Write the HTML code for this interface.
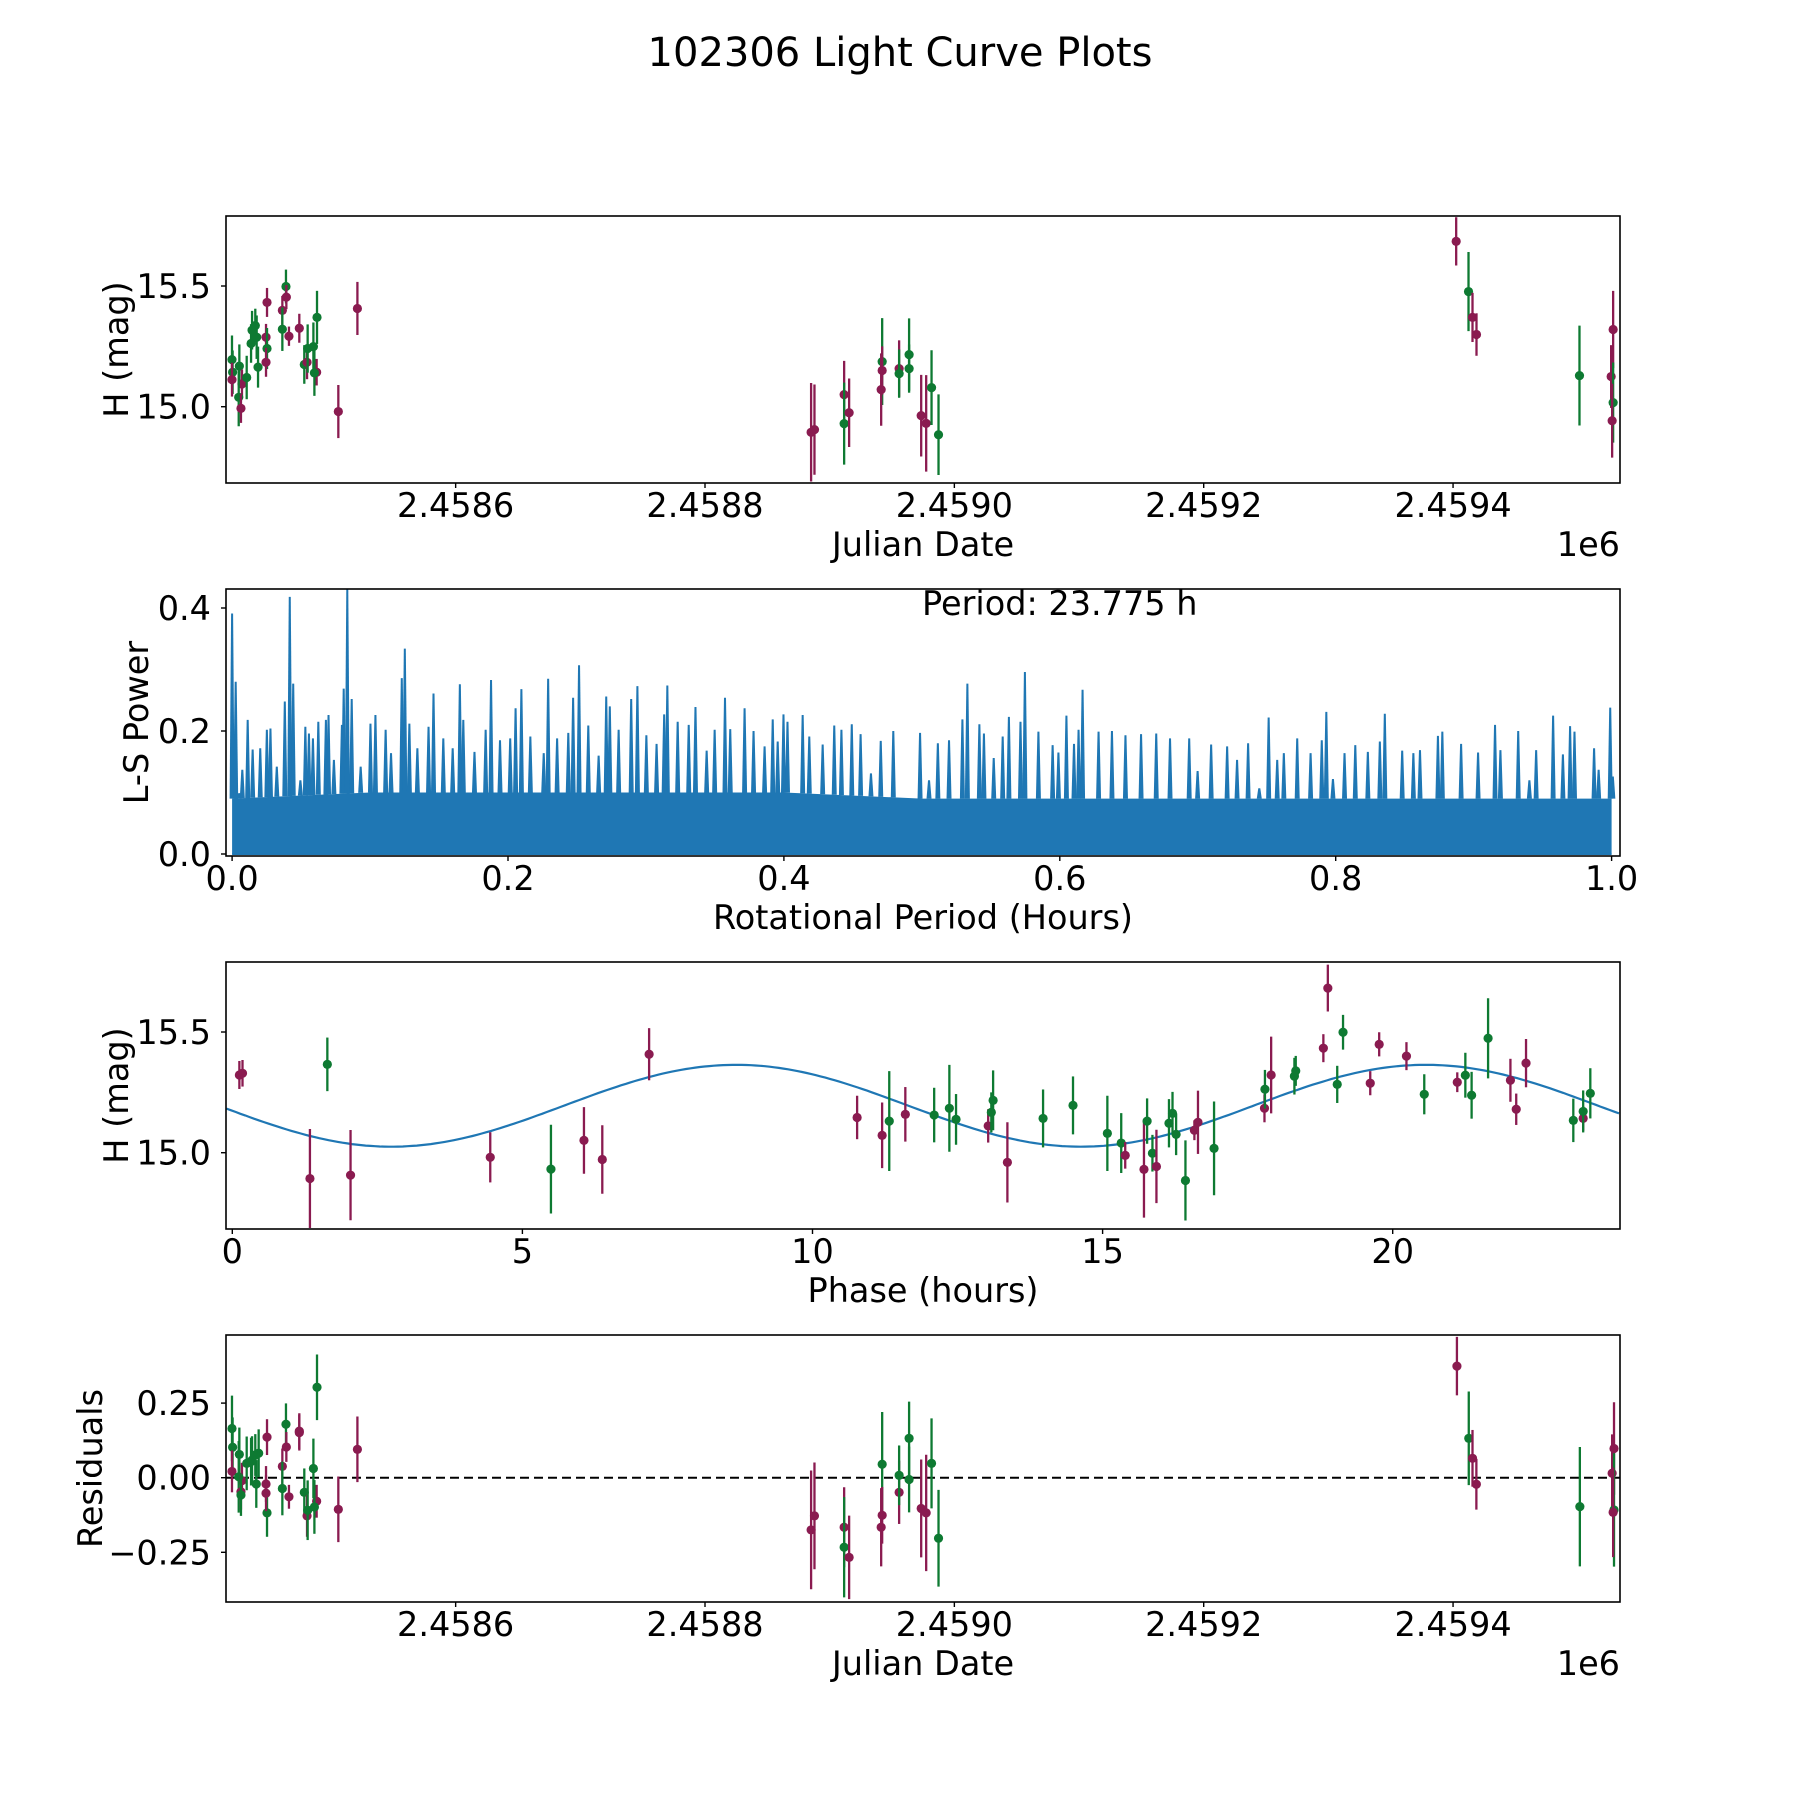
<!DOCTYPE html>
<html><head><meta charset="utf-8"><title>102306 Light Curve Plots</title>
<style>html,body{margin:0;padding:0;background:#fff}svg{display:block}text{font-family:"DejaVu Sans","Liberation Sans",sans-serif;fill:#000}</style>
</head><body>
<svg id="fig" width="1800" height="1800" viewBox="0 0 1800 1800" xmlns="http://www.w3.org/2000/svg">
<rect x="0" y="0" width="1800" height="1800" fill="#fff"/>
<text x="900" y="66" font-size="40" text-anchor="middle">102306 Light Curve Plots</text>
</svg>
<script>
// ---------- data (JD as days since 2458400) ----------
const jdBase = 2458400;
const lcDays = [20.6,21.1,20.6,26.5,28.6,26.0,27.8,32.4,35.9,36.7,39.3,40.4,41.5,48.7,47.9,48.7,47.9,61.0,63.9,64.2,61.0,66.3,74.6,78.6,80.8,81.3,85.9,88.5,86.7,88.8,105.9,121.2,
485.1,487.8,511.6,511.6,515.6,542.1,542.1,541.3,555.7,555.7,563.7,563.7,573.4,577.4,581.7,587.3,
1002.5,1012.4,1015.6,1018.8,1101.4,1128.4,1126.8,1128.4,1127.6];
const lcMag = [15.195,15.143,15.112,15.168,15.094,15.039,14.993,15.121,15.262,15.317,15.336,15.288,15.164,15.432,15.288,15.241,15.184,15.399,15.498,15.454,15.321,15.292,15.325,15.175,15.184,15.241,15.249,15.143,15.140,15.370,14.980,15.407,
14.894,14.905,15.050,14.930,14.975,15.187,15.150,15.071,15.158,15.137,15.216,15.158,14.963,14.931,15.079,14.884,
15.685,15.477,15.370,15.299,15.129,15.320,15.125,15.017,14.942];
const lcErr = [0.1,0.09,0.07,0.09,0.06,0.12,0.06,0.09,0.08,0.08,0.07,0.09,0.085,0.06,0.055,0.085,0.06,0.06,0.07,0.05,0.09,0.04,0.06,0.08,0.07,0.1,0.1,0.055,0.095,0.11,0.11,0.11,
0.204,0.187,0.14,0.17,0.142,0.18,0.1,0.15,0.117,0.1,0.15,0.1,0.169,0.2,0.155,0.167,
0.1,0.164,0.102,0.088,0.207,0.16,0.13,0.166,0.153];
const lcBand = ['g','g','m','g','m','g','m','g','g','g','g','g','g','m','m','g','m','m','g','m','g','m','m','g','m','g','g','m','g','g','m','m',
'm','m','m','g','m','g','m','m','m','g','g','g','m','m','g','g',
'm','g','m','m','g','m','m','g','m'];

const lsPeriod = [0.000,0.0026,0.0052,0.0074,0.0113,0.0149,0.0204,0.0252,0.0278,0.0324,0.0382,0.0418,0.0443,0.0495,0.0531,0.0557,0.0586,0.0625,0.0680,0.0699,0.0738,0.0796,0.0809,0.0835,0.0867,0.0932,0.1003,0.1039,0.1113,0.1152,0.1230,0.1252,0.1285,0.1343,0.1424,0.1460,0.1531,0.1599,0.1651,0.1676,0.1757,0.1838,0.1877,0.1942,0.2016,0.2055,0.2097,0.2162,0.2259,0.2291,0.2356,0.2437,0.2472,0.2515,0.2582,0.2657,0.2712,0.2738,0.2802,0.2893,0.2938,0.3003,0.3077,0.3132,0.3155,0.3230,0.3310,0.3359,0.3440,0.3498,0.3573,0.3611,0.3715,0.3780,0.3860,0.3919,0.3955,0.3997,0.4026,0.4136,0.4184,0.4281,0.4365,0.4417,0.4492,0.4556,0.4631,0.4702,0.4793,
0.4987,0.5052,0.5116,0.5197,0.5294,0.5330,0.5417,0.5450,0.5521,0.5586,0.5631,0.5715,0.5747,0.5845,0.5948,0.5990,0.6048,0.6103,0.6136,0.6165,0.6281,0.6378,0.6476,0.6589,0.6699,0.6799,0.6938,0.6999,0.7097,0.7213,0.7285,0.7365,0.7446,0.7514,0.7576,0.7624,0.7721,0.7818,0.7899,0.7932,0.7980,0.8064,0.8142,0.8233,0.8320,0.8356,0.8482,0.8563,0.8611,0.8741,0.8773,0.8909,0.9032,0.9155,0.9194,0.9323,0.9404,0.9453,0.9576,0.9647,0.9699,0.9731,0.9873,0.9906,0.9990,1.0009];
const lsPower = [0.391,0.280,0.099,0.137,0.218,0.170,0.172,0.202,0.204,0.142,0.248,0.418,0.277,0.120,0.207,0.196,0.188,0.215,0.218,0.226,0.153,0.210,0.269,0.430,0.252,0.142,0.212,0.226,0.202,0.164,0.286,0.334,0.212,0.172,0.207,0.261,0.188,0.172,0.276,0.218,0.166,0.202,0.283,0.185,0.188,0.237,0.268,0.191,0.164,0.285,0.188,0.197,0.254,0.307,0.209,0.160,0.256,0.240,0.202,0.252,0.273,0.193,0.179,0.227,0.274,0.215,0.210,0.239,0.168,0.202,0.254,0.203,0.237,0.200,0.175,0.219,0.183,0.227,0.215,0.226,0.191,0.178,0.209,0.202,0.211,0.195,0.131,0.184,0.200,
0.197,0.120,0.180,0.185,0.219,0.277,0.211,0.196,0.156,0.191,0.223,0.215,0.296,0.199,0.177,0.165,0.225,0.179,0.202,0.267,0.199,0.200,0.193,0.195,0.196,0.188,0.188,0.135,0.178,0.175,0.153,0.180,0.107,0.222,0.153,0.164,0.188,0.164,0.185,0.231,0.122,0.164,0.177,0.166,0.183,0.228,0.168,0.164,0.169,0.192,0.199,0.179,0.165,0.210,0.169,0.200,0.120,0.169,0.225,0.162,0.208,0.199,0.172,0.137,0.238,0.126];
const lsFloorX = [0,0.1,0.2,0.3,0.4,0.5,0.6,0.7,0.8,0.9,1.0];
const lsFloorY = [0.09,0.10,0.10,0.10,0.10,0.09,0.09,0.09,0.09,0.09,0.09];
const bestPeriodLabel = 'Period: 23.775 h';

const phHours = [0.122,0.176,1.638,1.338,2.038,4.446,5.492,6.061,6.377,7.184,10.769,11.200,11.323,11.600,
12.097,12.359,12.474,13.028,13.082,13.113,13.359,13.974,14.490,15.082,15.321,15.390,15.713,15.767,15.859,15.928,16.144,16.205,16.267,16.582,16.644,16.428,16.921,17.790,17.798,17.905,18.306,18.329,18.805,18.882,19.044,19.144,19.613,19.767,20.237,20.544,21.113,21.252,21.360,21.644,22.029,22.129,22.298,23.113,23.283,23.283,23.406];
const phMag = [15.322,15.329,15.366,14.893,14.907,14.981,14.932,15.051,14.972,15.408,15.146,15.072,15.131,15.159,
15.156,15.184,15.138,15.111,15.167,15.217,14.960,15.142,15.196,15.080,15.040,14.989,14.931,15.131,14.998,14.943,15.122,15.163,15.076,15.093,15.126,14.885,15.018,15.184,15.263,15.322,15.317,15.339,15.433,15.682,15.283,15.499,15.288,15.449,15.400,15.242,15.292,15.321,15.238,15.474,15.300,15.180,15.371,15.134,15.142,15.171,15.246];
const phErr = [0.058,0.055,0.111,0.205,0.187,0.104,0.184,0.138,0.142,0.108,0.09,0.136,0.207,0.113,
0.113,0.18,0.105,0.069,0.083,0.124,0.166,0.12,0.12,0.156,0.124,0.055,0.2,0.094,0.076,0.152,0.1,0.089,0.086,0.041,0.131,0.166,0.194,0.058,0.08,0.159,0.076,0.062,0.058,0.097,0.077,0.072,0.05,0.05,0.058,0.083,0.041,0.093,0.097,0.166,0.089,0.065,0.1,0.09,0.051,0.087,0.104];
const phBand = ['m','m','g','m','m','m','g','m','m','m','m','m','g','m',
'g','g','g','m','g','g','m','g','g','g','g','m','m','g','g','m','g','g','g','m','m','g','g','m','g','m','g','g','m','m','g','g','m','m','m','g','m','g','g','g','m','m','m','g','m','g','g'];
// fitted model parameters
const modelMean = 15.1945, modelAmp = 0.1695, modelMinPhase = 2.74, modelCycle = 11.8875;

const resDays = [20.6,21.1,20.6,26.5,28.6,26.0,27.8,27.8,32.4,35.9,36.7,39.3,42.0,40.1,48.7,47.9,48.7,47.9,61.0,63.9,64.2,61.0,66.3,74.6,74.6,78.6,80.8,81.3,85.9,88.5,86.7,88.8,105.9,121.2,
485.1,487.8,511.6,511.6,515.6,542.1,542.1,541.3,555.7,555.7,563.7,563.7,573.4,577.4,581.7,587.3,
1003.1,1012.6,1015.6,1018.7,1101.7,1129.1,1127.6,1129.1,1128.4];
const resVal = [0.165,0.102,0.021,0.078,-0.010,0.003,-0.047,-0.058,0.048,0.054,0.059,0.076,0.082,-0.021,0.136,-0.021,-0.118,-0.052,0.038,0.179,0.103,-0.036,-0.064,0.156,0.151,-0.049,-0.128,-0.109,0.031,-0.079,-0.098,0.303,-0.106,0.095,
-0.175,-0.128,-0.166,-0.233,-0.267,0.045,-0.126,-0.166,-0.049,0.008,0.132,-0.006,-0.103,-0.118,0.048,-0.203,
0.374,0.132,0.065,-0.022,-0.097,0.098,0.015,-0.108,-0.116];
const resErr = [0.11,0.1,0.07,0.09,0.06,0.12,0.06,0.07,0.09,0.08,0.08,0.07,0.08,0.08,0.06,0.06,0.08,0.06,0.06,0.07,0.05,0.09,0.04,0.06,0.06,0.08,0.07,0.1,0.1,0.055,0.09,0.11,0.11,0.11,
0.199,0.179,0.134,0.168,0.14,0.175,0.095,0.131,0.106,0.1,0.123,0.11,0.164,0.195,0.151,0.162,
0.098,0.157,0.095,0.085,0.2,0.155,0.13,0.19,0.15];
const resBand = ['g','g','m','g','m','g','m','g','g','g','g','g','g','g','m','m','g','m','m','g','m','g','m','m','m','g','m','g','g','m','g','g','m','m',
'm','m','m','g','m','g','m','m','m','g','g','g','m','m','g','g',
'm','g','m','m','g','m','m','g','m'];

const jdTicks = [2458600,2458800,2459000,2459200,2459400];
const jdTickLabels = ['2.4586','2.4588','2.4590','2.4592','2.4594'];
const magTicks = [15.0,15.5];
const magTickLabels = ['15.0','15.5'];
const lsXTicks = [0,0.2,0.4,0.6,0.8,1.0];
const lsXTickLabels = ['0.0','0.2','0.4','0.6','0.8','1.0'];
const lsYTicks = [0,0.2,0.4];
const lsYTickLabels = ['0.0','0.2','0.4'];
const phTicks = [0,5,10,15,20];
const phTickLabels = ['0','5','10','15','20'];
const resTicks = [0.25,0,-0.25];
const resTickLabels = ['0.25','0.00','\u22120.25'];

// ---------- drawing ----------
const NS='http://www.w3.org/2000/svg';
const svg=document.getElementById('fig');
const COL={m:'#8a1b50',g:'#0e7a32'};
const L=226,R=1620,H=267,FS=33.5;
function mk(tag,attrs,parent){const e=document.createElementNS(NS,tag);for(const k in attrs)e.setAttribute(k,attrs[k]);(parent||svg).appendChild(e);return e;}
function lin(d0,d1,p0,p1){return v=>p0+(v-d0)*(p1-p0)/(d1-d0);}

function axesFrame(top,name){
  const g=mk('g',{});
  
  
  return g;
}
function frame(g,top){
  const r=mk('rect',{x:L,y:top,width:R-L,height:H,fill:'none',stroke:'#000','stroke-width':1.6},g);
  
  
}
function xTicks(g,top,sx,vals,labels){
  const b=top+H;
  vals.forEach((v,i)=>{const x=sx(v);
    const t=mk('line',{x1:x,x2:x,y1:b,y2:b+5,stroke:'#000','stroke-width':1.4},g);
    
    
    const tx=mk('text',{x:x,y:b+34,'font-size':FS,'text-anchor':'middle'},g);tx.textContent=labels[i];
    
    
  });
}
function yTicks(g,sy,vals,labels){
  vals.forEach((v,i)=>{const y=sy(v);
    const t=mk('line',{x1:L-5,x2:L,y1:y,y2:y,stroke:'#000','stroke-width':1.4},g);
    
    
    const tx=mk('text',{x:211,y:y+12,'font-size':FS,'text-anchor':'end'},g);tx.textContent=labels[i];
    
    
  });
}
function xLabel(g,top,txt,name){
  const t=mk('text',{x:(L+R)/2,y:top+H+73,'font-size':FS,'text-anchor':'middle'},g);t.textContent=txt;
  
  
}
function yLabel(g,top,txt,bx,name){
  const cy=top+H/2;
  const t=mk('text',{x:bx,y:cy,'font-size':FS,'text-anchor':'middle',transform:`rotate(-90 ${bx} ${cy})`},g);t.textContent=txt;
  
  
}
function offsetText(g,top){
  const t=mk('text',{x:R,y:top+H+73,'font-size':FS,'text-anchor':'end'},g);t.textContent='1e6';
  
  
}
function errPoints(g,sx,sy,xs,ys,es,bands,name,top){
  const cp='c'+Math.round(top);
  const clip=mk('clipPath',{id:cp},g);
  mk('rect',{x:L,y:top,width:R-L,height:H},clip);
  const pg=mk('g',{'clip-path':`url(#${cp})`},g);
  xs.forEach((xv,i)=>{const x=sx(xv),y=sy(ys[i]),c=COL[bands[i]];
    const eb=mk('line',{x1:x,x2:x,y1:sy(ys[i]+es[i]),y2:sy(ys[i]-es[i]),stroke:c,'stroke-width':2.3},pg);
    
    
    const p=mk('circle',{cx:x,cy:y,r:4.6,fill:c},pg);
    
    
  });
}

// Panel 1: light curve
(function(){
  const top=216;
  const g=axesFrame(top,'light-curve-panel');
  const sx=lin(2458415.8,2459533.9,L,R), sy=lin(14.684,15.79,top+H,top);
  errPoints(g,sx,sy,lcDays.map(d=>d+jdBase),lcMag,lcErr,lcBand,'light-curve-point',top);
  frame(g,top);
  xTicks(g,top,sx,jdTicks,jdTickLabels);yTicks(g,sy,magTicks,magTickLabels);
  xLabel(g,top,'Julian Date','x-axis-title');yLabel(g,top,'H (mag)',128,'y-axis-title');offsetText(g,top);
})();

// Panel 2: periodogram
(function(){
  const top=589;
  const g=axesFrame(top,'periodogram-panel');
  const sx=lin(0,1,232.1,1611.6), sy=lin(0,0.2,854,731);
  const fl=v=>{for(let i=0;i<lsFloorX.length-1;i++){if(v<=lsFloorX[i+1]){const f=(v-lsFloorX[i])/(lsFloorX[i+1]-lsFloorX[i]);return lsFloorY[i]+f*(lsFloorY[i+1]-lsFloorY[i]);}}return lsFloorY[lsFloorY.length-1];};
  let d=`M${sx(0)},${sy(0)}`;
  lsFloorX.forEach((v,i)=>{d+=` L${sx(v)},${sy(lsFloorY[i])}`;});
  d+=` L${sx(1)},${sy(0)} Z`;
  const fp=mk('path',{d:d,fill:'#1f77b4'},g);
  
  
  lsPeriod.forEach((p,i)=>{const x=sx(p),f=fl(p);
    const s=mk('path',{d:`M${x-2.5},${sy(f)} L${x-1},${sy(lsPower[i])} L${x+1},${sy(lsPower[i])} L${x+2.5},${sy(f)} Z`,fill:'#1f77b4'},g);
    
    
  });
  const bl=mk('line',{x1:sx(0),x2:sx(1),y1:sy(0),y2:sy(0),stroke:'#1f77b4','stroke-width':2},g);
  
  
  frame(g,top);
  xTicks(g,top,sx,lsXTicks,lsXTickLabels);yTicks(g,sy,lsYTicks,lsYTickLabels);
  xLabel(g,top,'Rotational Period (Hours)','x-axis-title');yLabel(g,top,'L-S Power',148,'y-axis-title');
  const pt=mk('text',{x:922,y:615,'font-size':FS},g);pt.textContent=bestPeriodLabel;
  
  
})();

// Panel 3: phase-folded
(function(){
  const top=962;
  const g=axesFrame(top,'phase-folded-panel');
  const sx=lin(0,5,232.3,522.4), sy=lin(14.684,15.79,top+H,top);
  let d='';
  for(let i=0;i<=300;i++){const p=-0.1+i*24/300;const h=modelMean-modelAmp*Math.cos(2*Math.PI*(p-modelMinPhase)/modelCycle);d+=(i?' L':'M')+sx(p).toFixed(1)+','+sy(h).toFixed(1);}
  const c=mk('path',{d:d,fill:'none',stroke:'#1f77b4','stroke-width':2.2},g);
  
  
  errPoints(g,sx,sy,phHours,phMag,phErr,phBand,'phase-point',top);
  frame(g,top);
  xTicks(g,top,sx,phTicks,phTickLabels);yTicks(g,sy,magTicks,magTickLabels);
  xLabel(g,top,'Phase (hours)','x-axis-title');yLabel(g,top,'H (mag)',128,'y-axis-title');
})();

// Panel 4: residuals
(function(){
  const top=1335;
  const g=axesFrame(top,'residuals-panel');
  const sx=lin(2458415.8,2459533.9,L,R), sy=lin(0,0.25,1477.7,1403.1);
  const z=mk('line',{x1:L,x2:R,y1:sy(0),y2:sy(0),stroke:'#000','stroke-width':2,'stroke-dasharray':'9,5'},g);
  
  
  errPoints(g,sx,sy,resDays.map(d=>d+jdBase),resVal,resErr,resBand,'residual-point',top);
  frame(g,top);
  xTicks(g,top,sx,jdTicks,jdTickLabels);yTicks(g,sy,resTicks,resTickLabels);
  xLabel(g,top,'Julian Date','x-axis-title');yLabel(g,top,'Residuals',102,'y-axis-title');offsetText(g,top);
})();
</script>
</body></html>
